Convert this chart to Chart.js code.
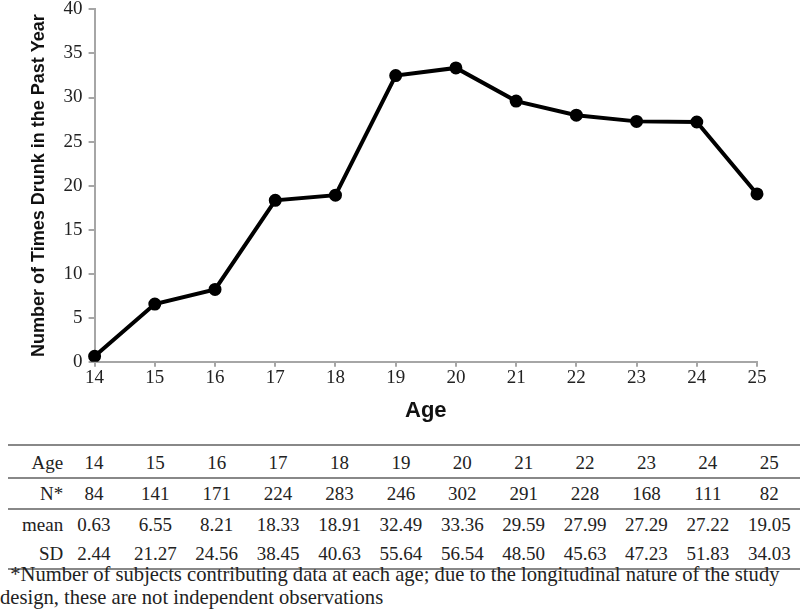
<!DOCTYPE html>
<html>
<head>
<meta charset="utf-8">
<script src="https://cdn.jsdelivr.net/npm/chart.js@4/dist/chart.umd.min.js"></script>
<style>
  body { margin: 0; background: #fff; width: 800px; height: 609px; overflow: hidden; position: relative; }
  #wrap { position: absolute; left: 0; top: -8px; width: 800px; height: 446px; }
  table { position: absolute; left: 8px; top: 444px; width: 792px; border-collapse: collapse;
          font-family: "Liberation Serif", "Times New Roman", serif; font-size: 19px; color: #222; }
  td { text-align: center; padding: 0; width: 60px; }
  td.lab { text-align: right; width: 54px; padding-right: 0; }
  tr.r1 td { height: 28px; padding-top: 3px; border-top: 2px solid #888; border-bottom: 2px solid #888; }
  tr.r2 td { height: 29px; border-bottom: 2px solid #888; }
  tr.r3 td { height: 29px; }
  tr.r4 td { height: 29px; border-bottom: 2px solid #888; }
  #note { position: absolute; left: 0; top: 563px; width: 800px; white-space: nowrap;
          font-family: "Liberation Serif", "Times New Roman", serif; font-size: 20.6px; color: #222; line-height: 23px; }
</style>
</head>
<body>
<div id="wrap"><canvas id="chart1"></canvas></div>
<table id="tbl"></table>
<div id="note">&nbsp;&nbsp;*Number of subjects contributing data at each age; due to the longitudinal nature of the study<br>design, these are not independent observations</div>
<script>
const ages = ['14', '15', '16', '17', '18', '19', '20', '21', '22', '23', '24', '25']
const nCounts = [84, 141, 171, 224, 283, 246, 302, 291, 228, 168, 111, 82]
const means = [0.63, 6.55, 8.21, 18.33, 18.91, 32.49, 33.36, 29.59, 27.99, 27.29, 27.22, 19.05]
const sds = [2.44, 21.27, 24.56, 38.45, 40.63, 55.64, 56.54, 48.50, 45.63, 47.23, 51.83, 34.03]

// table under the chart
function row(cls, label, vals, fmt) {
    let html = '<tr class="' + cls + '"><td class="lab">' + label + '</td>'
    vals.forEach(v => html += '<td>' + fmt(v) + '</td>')
    return html + '</tr>'
}
document.getElementById('tbl').innerHTML =
    row('r1', 'Age', ages, v => v) +
    row('r2', 'N*', nCounts, v => v) +
    row('r3', 'mean', means, v => v.toFixed(2)) +
    row('r4', 'SD', sds, v => v.toFixed(2))

const tickFont = { family: '"Liberation Serif", "Times New Roman", serif', size: 19 }
const sansBold = '"Liberation Sans", Arial, sans-serif'

const data = {
    labels: ages,
    datasets: [{
        data: means,
        borderColor: '#000',
        backgroundColor: '#000',
        borderWidth: 4,
        pointRadius: 4.5,
        pointHoverRadius: 4.5,
        tension: 0
    }]
}

let options = {
    responsive: true,
    maintainAspectRatio: false,
    animation: false,
    layout: { padding: { left: 24, right: 43, top: 0, bottom: 10 } },
    plugins: {
        legend: { display: false },
        tooltip: { enabled: false }
    },
    scales: {
        x: {
            offset: false,
            border: { color: '#a6a6a6', width: 2 },
            grid: { drawOnChartArea: false, drawTicks: true, tickLength: 5, color: '#a6a6a6', lineWidth: 2 },
            ticks: { color: '#222', font: tickFont, padding: 0, maxRotation: 0 },
            title: { display: true, text: 'Age', color: '#111', font: { family: sansBold, size: 22, weight: 'bold' }, padding: { top: 8 } }
        },
        y: {
            min: 0,
            max: 40,
            border: { color: '#a6a6a6', width: 2 },
            grid: { drawOnChartArea: false, drawTicks: true, tickLength: 6, color: '#a6a6a6', lineWidth: 2 },
            ticks: { stepSize: 5, color: '#222', font: tickFont, padding: 6 },
            title: { display: true, text: 'Number of Times Drunk in the Past Year', color: '#111', font: { family: sansBold, size: 18, weight: 'bold' }, padding: { bottom: 8 } }
        }
    }
}

new Chart('chart1', { type: 'line', data, options })
</script>
</body>
</html>
